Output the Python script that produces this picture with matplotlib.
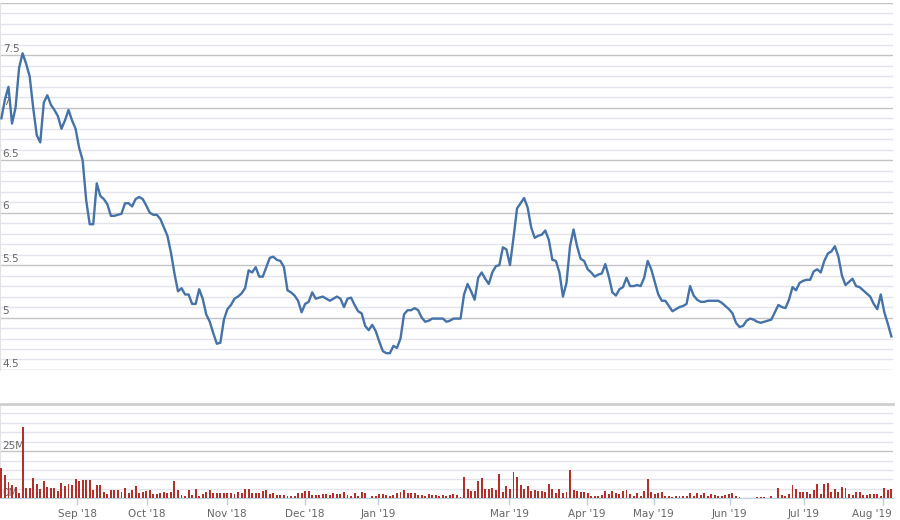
import matplotlib
matplotlib.use('Agg')
import matplotlib.pyplot as plt
from matplotlib.transforms import blended_transform_factory, ScaledTranslation

# Daily close (one value per trading day)
price = [
    6.90, 7.08, 7.20, 6.85, 7.00, 7.38, 7.52, 7.42, 7.30, 7.00,
    6.74, 6.67, 7.05, 7.12, 7.03, 6.98, 6.92, 6.80, 6.88, 6.98,
    6.88, 6.80, 6.62, 6.50, 6.12, 5.89, 5.89, 6.28, 6.16, 6.13,
    6.08, 5.97, 5.97, 5.98, 5.99, 6.09, 6.09, 6.06, 6.13, 6.15,
    6.13, 6.07, 6.00, 5.98, 5.98, 5.94, 5.86, 5.78, 5.62, 5.42,
    5.25, 5.28, 5.22, 5.22, 5.13, 5.13, 5.27, 5.18, 5.03, 4.96,
    4.85, 4.75, 4.76, 4.98, 5.08, 5.12, 5.18, 5.20, 5.23, 5.28,
    5.45, 5.43, 5.48, 5.39, 5.39, 5.48, 5.57, 5.58, 5.55, 5.54,
    5.48, 5.26, 5.24, 5.21, 5.16, 5.05, 5.13, 5.15, 5.24, 5.18,
    5.19, 5.20, 5.18, 5.16, 5.18, 5.20, 5.18, 5.10, 5.18, 5.19,
    5.12, 5.06, 5.04, 4.92, 4.88, 4.93, 4.87, 4.77, 4.68, 4.66,
    4.66, 4.73, 4.71, 4.80, 5.03, 5.07, 5.07, 5.09, 5.07, 5.00,
    4.96, 4.97, 4.99, 4.99, 4.99, 4.99, 4.96, 4.97, 4.99, 4.99,
    4.99, 5.22, 5.32, 5.25, 5.17, 5.38, 5.43, 5.37, 5.32, 5.43,
    5.49, 5.50, 5.67, 5.65, 5.50, 5.76, 6.04, 6.09, 6.14, 6.05,
    5.86, 5.76, 5.78, 5.79, 5.83, 5.74, 5.55, 5.54, 5.43, 5.20,
    5.33, 5.68, 5.84, 5.68, 5.56, 5.54, 5.46, 5.43, 5.39, 5.41,
    5.42, 5.51, 5.39, 5.24, 5.21, 5.27, 5.29, 5.38, 5.30, 5.30,
    5.31, 5.30, 5.38, 5.54, 5.46, 5.34, 5.22, 5.16, 5.16, 5.11,
    5.06, 5.08, 5.10, 5.11, 5.13, 5.30, 5.21, 5.17, 5.15, 5.15,
    5.16, 5.16, 5.16, 5.16, 5.14, 5.11, 5.08, 5.04, 4.95, 4.91,
    4.92, 4.97, 4.99, 4.98, 4.96, 4.95, 4.96, 4.97, 4.98, 5.05,
    5.12, 5.10, 5.09, 5.17, 5.29, 5.26, 5.33, 5.35, 5.36, 5.36,
    5.44, 5.46, 5.43, 5.54, 5.61, 5.63, 5.68, 5.58, 5.40, 5.31,
    5.34, 5.37, 5.30, 5.29, 5.26, 5.23, 5.20, 5.13, 5.08, 5.22,
    5.05, 4.94, 4.82,
]

# Daily volume, millions of shares
volume_m = [
    15.9, 12.4, 8.5, 7.1, 6.0, 2.7, 38.0, 5.3, 5.3, 10.6,
    7.6, 4.8, 9.2, 6.2, 5.7, 5.7, 3.7, 8.1, 6.7, 7.6,
    7.2, 10.1, 9.2, 9.7, 9.9, 9.5, 4.6, 7.1, 7.1, 3.5,
    2.3, 4.6, 4.4, 4.4, 3.2, 5.3, 3.0, 4.2, 6.5, 2.8,
    3.2, 3.9, 4.6, 2.3, 2.3, 2.7, 3.5, 2.7, 3.4, 9.2,
    4.6, 1.9, 1.4, 4.6, 1.9, 4.9, 1.4, 2.3, 3.4, 4.4,
    2.8, 3.0, 3.0, 3.0, 3.0, 3.0, 2.5, 3.2, 3.0, 5.0,
    5.0, 2.7, 3.0, 3.0, 4.1, 4.5, 2.1, 3.0, 1.8, 1.6,
    1.6, 1.1, 1.1, 1.3, 2.7, 3.0, 3.8, 4.1, 2.0, 1.6,
    1.8, 2.1, 2.5, 2.0, 2.7, 2.5, 2.5, 3.2, 1.6, 1.4,
    2.7, 1.4, 3.2, 2.7, 0.0, 1.3, 1.1, 2.1, 2.5, 1.8,
    1.4, 1.8, 2.7, 3.2, 4.6, 3.0, 2.7, 2.7, 1.6, 1.8,
    1.3, 2.1, 1.8, 1.8, 1.4, 1.8, 1.4, 1.5, 2.1, 1.8,
    0.5, 11.4, 5.2, 4.1, 4.1, 9.3, 10.7, 5.2, 5.2, 5.7,
    4.6, 13.0, 3.6, 6.6, 5.2, 13.9, 11.4, 7.1, 5.2, 6.6,
    4.1, 4.6, 4.1, 4.1, 3.6, 7.7, 5.2, 2.7, 5.2, 2.7,
    3.6, 14.8, 4.6, 4.1, 3.2, 3.2, 2.7, 1.4, 1.4, 1.1,
    2.0, 4.1, 2.1, 4.1, 2.7, 2.1, 4.1, 4.6, 2.1, 1.4,
    2.7, 1.4, 4.1, 10.2, 3.6, 2.1, 2.7, 3.6, 1.4, 1.1,
    0.9, 1.3, 1.1, 1.3, 1.1, 3.0, 1.3, 2.7, 1.6, 3.0,
    1.3, 2.5, 1.6, 1.1, 1.3, 1.6, 2.1, 2.7, 1.3, 0.9,
    0.0, 0.0, 0.0, 0.0, 0.9, 0.9, 0.9, 0.0, 1.3, 0.0,
    5.5, 1.6, 1.1, 2.1, 7.1, 5.0, 3.4, 3.4, 3.4, 2.1,
    4.6, 7.5, 2.5, 7.5, 8.2, 3.4, 5.0, 3.6, 6.2, 5.7,
    2.5, 1.6, 3.2, 3.2, 1.6, 1.6, 2.1, 2.3, 2.1, 1.4,
    5.7, 4.4, 5.0,
]

# first trading day of each month, as position in the series
month_pos = [21.5, 41.2, 63.8, 86.0, 106.6, 143.8, 165.7, 184.7, 206.2, 227.2, 249.6]
month_labels = ["Sep '18", "Oct '18", "Nov '18", "Dec '18", "Jan '19",
                "Mar '19", "Apr '19", "May '19", "Jun '19", "Jul '19", "Aug '19"]

price_major = [4.5, 5, 5.5, 6, 6.5, 7, 7.5, 8]
price_minor = [v / 10 for v in range(45, 81)]
volume_major = [0, 25, 50]
volume_minor = list(range(0, 51, 5))

days = list(range(len(price)))

fig = plt.figure(figsize=(9, 5.2), dpi=100)
ax_p = fig.add_axes([0.0, 0.2885, 0.992, 0.7058])
ax_v = fig.add_axes([0.0, 0.0417, 0.992, 0.1813], sharex=ax_p)

label_style = dict(fontsize=7.5, color='#666666', ha='left', va='bottom', zorder=1)

for ax in (ax_p, ax_v):
    ax.set_axisbelow(True)
    ax.grid(which='major', axis='y', color='#c4c4c8', lw=1.0)
    ax.grid(which='minor', axis='y', color='#e4e4ec', lw=1.0)
    ax.tick_params(axis='y', which='both', length=0, labelleft=False)
    for side in ('top', 'right', 'bottom'):
        ax.spines[side].set_visible(False)
    ax.spines['left'].set_color('#e2e2e2')

# price panel
ax_p.plot(days, price, color='#4572A7', lw=1.7, solid_joinstyle='round', zorder=3)
ax_p.set_ylim(4.5, 8.0)
ax_p.set_yticks(price_major)
ax_p.set_yticks(price_minor, minor=True)
ax_p.set_xlim(-0.4, 252.4)
ax_p.tick_params(axis='x', which='both', bottom=False, labelbottom=False)
tr_p = blended_transform_factory(ax_p.transAxes, ax_p.transData)
for v in price_major[:-1]:
    ax_p.text(0.003, v + 0.012, f'{v:g}', transform=tr_p, **label_style)

# volume panel
ax_v.bar(days, volume_m, width=0.55, color='#b0302c', zorder=3)
ax_v.set_ylim(0, 50)
ax_v.set_yticks(volume_major)
ax_v.set_yticks(volume_minor, minor=True)
ax_v.spines['top'].set_visible(True)
ax_v.spines['top'].set_color('#cfcfcf')
ax_v.spines['top'].set_linewidth(2)
ax_v.spines['bottom'].set_visible(True)
ax_v.spines['bottom'].set_color('#c0d0e0')
tr_v = blended_transform_factory(ax_v.transAxes, ax_v.transData)
for v in volume_major[:-1]:
    ax_v.text(0.003, v + 0.3, f'{v}M', transform=tr_v, **label_style)

ax_v.set_xticks(month_pos)
ax_v.set_xticklabels(month_labels)
ax_v.tick_params(axis='x', which='major', direction='out', length=5, width=1,
                 color='#c0d0e0', labelsize=7.5, labelcolor='#666666', pad=3)
ax_v.tick_params(axis='x', which='minor', bottom=False)

# keep the last month label inside the figure
last = ax_v.get_xticklabels()[-1]
last.set_transform(last.get_transform() + ScaledTranslation(-8 / 72, 0, fig.dpi_scale_trans))

fig.savefig('out.png', dpi=100)
